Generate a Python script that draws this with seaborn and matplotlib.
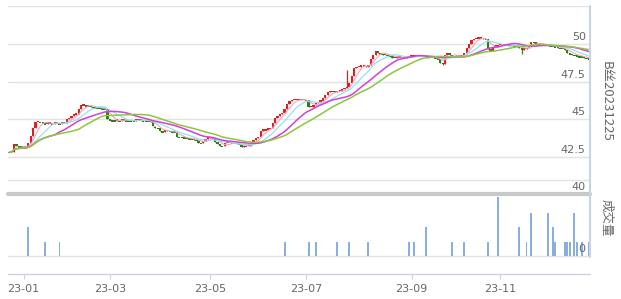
import numpy as np
import pandas as pd
import matplotlib
matplotlib.use("Agg")
import matplotlib.pyplot as plt
from matplotlib.lines import Line2D
import seaborn as sns

# ---------------- data ----------------
START_DATE = "2022-12-23"
END_DATE = "2023-12-22"
HOLIDAYS = ["2023-01-02", "2023-01-23", "2023-01-24", "2023-01-25", "2023-01-26",
            "2023-01-27", "2023-04-05", "2023-05-01", "2023-05-02", "2023-05-03",
            "2023-06-22", "2023-06-23", "2023-09-29", "2023-10-02", "2023-10-03",
            "2023-10-04", "2023-10-05", "2023-10-06"]

FIRST_OPEN = 42.85
CLOSE = [
    42.8, 42.85, 43.35, 43.2, 43.15, 43.15, 43.15, 43.2, 43.4, 43.9,
    44.4, 44.8, 44.85, 44.8, 44.75, 44.7, 44.75, 44.75, 44.7, 44.75,
    44.75, 44.7, 44.75, 44.75, 45.0, 45.1, 45.2, 45.3, 45.35, 45.7,
    45.95, 45.95, 45.9, 45.9, 45.85, 45.8, 45.75, 45.75, 45.75, 45.7,
    45.7, 45.0, 44.95, 44.9, 44.9, 44.95, 44.9, 45.0, 44.95, 44.9,
    44.9, 44.9, 44.9, 44.95, 45.0, 44.95, 44.9, 44.9, 44.9, 44.85,
    44.55, 44.45, 44.4, 44.2, 44.15, 44.3, 44.25, 44.2, 44.15, 44.15,
    43.85, 43.8, 43.8, 43.75, 43.75, 43.7, 43.7, 43.65, 43.6, 43.45,
    43.4, 43.55, 43.7, 43.75, 43.85, 43.7, 43.5, 43.35, 43.2, 43.2,
    43.4, 43.45, 43.45, 43.4, 43.4, 43.4, 43.35, 43.15, 43.2, 43.2,
    43.25, 43.4, 43.63, 43.75, 43.85, 44.2, 44.3, 44.3, 44.35, 44.45,
    44.75, 45.1, 45.2, 45.35, 45.45, 45.7, 46.0, 46.2, 46.25, 46.3,
    46.3, 46.3, 46.3, 46.3, 46.25, 45.8, 45.85, 45.95, 46.05, 46.15,
    46.2, 46.4, 46.6, 46.8, 46.85, 46.85, 46.8, 46.85, 46.9, 47.0,
    47.05, 47.15, 47.4, 47.9, 48.4, 48.5, 48.5, 48.55, 48.55, 48.5,
    48.6, 49.0, 49.3, 49.55, 49.4, 49.35, 49.3, 49.3, 49.25, 49.2,
    49.1, 49.1, 49.15, 49.15, 49.1, 49.1, 49.15, 49.15, 49.2, 49.2,
    49.25, 49.25, 49.25, 49.25, 49.15, 49.1, 49.1, 49.1, 49.05, 49.0,
    48.75, 48.7, 49.3, 49.4, 49.3, 49.2, 49.15, 49.2, 49.2, 49.25,
    49.4, 49.7, 50.0, 50.25, 50.35, 50.35, 50.4, 50.4, 50.35, 50.3,
    49.65, 49.55, 49.8, 49.85, 49.9, 49.95, 49.95, 49.95, 49.9, 49.9,
    49.9, 49.85, 49.85, 49.75, 49.6, 49.65, 49.75, 49.95, 50.05, 50.1,
    50.05, 50.0, 49.95, 49.95, 49.9, 49.9, 49.85, 49.85, 49.8, 49.75,
    49.7, 49.7, 49.6, 49.4, 49.35, 49.3, 49.25, 49.2, 49.15, 49.15,
    49.1, 49.05, 49.0,
]
WICK_HIGH_DAY = [141]
WICK_HIGH = [48.3]
WICK_LOW_DAY = [181, 214]
WICK_LOW = [48.6, 49.35]

VOL_DAY = [8, 15, 21, 115, 125, 128, 137, 142, 150, 167, 169, 174, 185, 190,
           200, 204, 213, 216, 218, 225, 227, 228, 232, 233, 234, 236, 237, 239, 242]
VOL = [19, 9, 9, 9, 9, 9, 9, 9, 9, 9, 9, 19, 9, 9,
       9, 38, 19, 9, 28, 28, 19, 9, 9, 9, 9, 28, 9, 9, 9]

MA_WINDOWS = [5, 10, 20, 30]
MA_COLORS = ["#f5a3c7", "#86e1ee", "#d33fd6", "#8cc63f"]
MA_WIDTHS = [0.8, 0.8, 1.1, 1.1]
PRICE_TICKS = [42.5, 45, 47.5, 50]
PRICE_GRID = [42.5, 45, 47.5, 50, 52.5]
VOL_TICKS = [0, 40]
TICK_MONTHS = ["2023-01", "2023-03", "2023-05", "2023-07", "2023-09", "2023-11"]
SERIES_NAME = "B丝20231225"
VOL_NAME = "成交量"

UP_COLOR = "#dd2020"
DOWN_COLOR = "#2f7d12"
VOL_COLOR = "#8aaee0"
TEXT_COLOR = "#666666"
GRID_COLOR = "#e3e3e3"

# ---------------- frame ----------------
dates = pd.bdate_range(START_DATE, END_DATE)
dates = dates[~dates.isin(pd.to_datetime(HOLIDAYS))]
N = len(CLOSE)
assert len(dates) == N, len(dates)
df = pd.DataFrame({"date": dates, "i": np.arange(N), "close": CLOSE})
df["open"] = [FIRST_OPEN] + CLOSE[:-1]
df["high"] = df[["open", "close"]].max(axis=1)
df["low"] = df[["open", "close"]].min(axis=1)
for d, v in zip(WICK_HIGH_DAY, WICK_HIGH):
    df.loc[d, "high"] = max(df.loc[d, "high"], v)
for d, v in zip(WICK_LOW_DAY, WICK_LOW):
    df.loc[d, "low"] = min(df.loc[d, "low"], v)

sign = np.sign(df["close"] - df["open"]).replace(0, np.nan).ffill().fillna(-1)
colors = np.where(sign > 0, UP_COLOR, DOWN_COLOR)

vol = np.zeros(N)
vol[VOL_DAY] = VOL
df["vol"] = vol

for w in MA_WINDOWS:
    df[f"ma{w}"] = df["close"].rolling(w, min_periods=1).mean()

# ---------------- figure ----------------
sns.set_theme(style="white")
plt.rcParams["font.family"] = ["DejaVu Sans", "Noto Sans CJK SC"]

W, H = 621, 299
fig = plt.figure(figsize=(W / 100, H / 100), dpi=100)
fig.patch.set_facecolor("white")

def fx(px):
    return px / W

def fy(py):
    return 1 - py / H

x0, x1 = 8, 590
ax_p = fig.add_axes([fx(x0), fy(179.6), fx(x1 - x0), (179.6 - 6.3) / H])
ax_v = fig.add_axes([fx(x0), fy(274), fx(x1 - x0), (274 - 194) / H])

for ax in (ax_p, ax_v):
    ax.set_facecolor("none")
    ax.set_xlim(-0.5, N - 0.5)
    for s in ax.spines.values():
        s.set_visible(False)

ax_p.set_ylim(41, 52.5)
ax_v.set_ylim(-11.6, 40)

# grid
for g in PRICE_GRID:
    ax_p.axhline(g, color=GRID_COLOR, lw=1.0, zorder=0)
ax_p.axhline(41, color=GRID_COLOR, lw=1.0, zorder=0, clip_on=False)
ax_v.axhline(0, color="#dfe3ea", lw=1.0, zorder=0)
ax_v.axhline(40, color="#c8c8c8", lw=3.0, zorder=0, clip_on=False)

# candles
body_bottom = df[["open", "close"]].min(axis=1).to_numpy()
body_h = (df["close"] - df["open"]).abs().to_numpy()
flat = body_h < 0.1
body_bottom = np.where(flat, df["close"].to_numpy() - 0.05, body_bottom)
body_h = np.where(flat, 0.1, body_h)
ax_p.vlines(df["i"], df["low"], df["high"], colors=colors, lw=0.9, zorder=2)
ax_p.bar(df["i"], body_h, bottom=body_bottom, width=0.95, color=colors,
         linewidth=0, zorder=3)

# moving averages
for w, c, lw in zip(MA_WINDOWS, MA_COLORS, MA_WIDTHS):
    sns.lineplot(data=df, x="i", y=f"ma{w}", ax=ax_p, color=c, lw=lw,
                 estimator=None, sort=False, zorder=4)

# volume
vv = df[df["vol"] > 0]
ax_v.bar(vv["i"], vv["vol"], width=0.8, color=VOL_COLOR, linewidth=0, zorder=2)

# axis labels / ticks
ax_p.set_xticks([])
ax_p.set_yticks([])
ax_p.set_xlabel("")
ax_p.set_ylabel("")
ax_v.set_yticks([])
ax_v.set_ylabel("")
ax_v.set_xlabel("")

for v in PRICE_TICKS:
    ax_p.annotate(f"{v:g}", xy=(0.995, v), xycoords=ax_p.get_yaxis_transform(),
                  xytext=(-1, 1.5), textcoords="offset points", ha="right",
                  va="bottom", fontsize=8, color=TEXT_COLOR, annotation_clip=False)
for v in VOL_TICKS:
    ax_v.annotate(f"{v:g}", xy=(0.995, v), xycoords=ax_v.get_yaxis_transform(),
                  xytext=(-1, 1.5), textcoords="offset points", ha="right",
                  va="bottom", fontsize=8, color=TEXT_COLOR, annotation_clip=False)

tick_pos = [int(df.index[df["date"].dt.strftime("%Y-%m") == m][0]) for m in TICK_MONTHS]
tick_lab = [df.loc[p, "date"].strftime("%y-%m") for p in tick_pos]
ax_v.spines["bottom"].set_visible(True)
ax_v.spines["bottom"].set_color("#ccd3e0")
ax_v.spines["bottom"].set_linewidth(1.0)
ax_v.set_xticks(tick_pos)
ax_v.set_xticklabels(tick_lab)
ax_v.tick_params(axis="x", bottom=True, direction="out", length=3.5, width=0.8,
                 color="#ccd3e0", labelsize=8, labelcolor=TEXT_COLOR, pad=4)

# right border line
fig.add_artist(Line2D([fx(590), fx(590)], [fy(6), fy(257)], color="#cbd3e2", lw=1.5))

fig.text(fx(606), fy(101), SERIES_NAME, rotation=270, ha="center", va="center",
         fontsize=9.5, color=TEXT_COLOR, family=["Noto Sans CJK SC", "DejaVu Sans"])
fig.text(fx(606), fy(218), VOL_NAME, rotation=270, ha="center", va="center",
         fontsize=9, color=TEXT_COLOR, family=["Noto Sans CJK SC", "DejaVu Sans"])

fig.savefig("out.png", dpi=100, facecolor="white")
